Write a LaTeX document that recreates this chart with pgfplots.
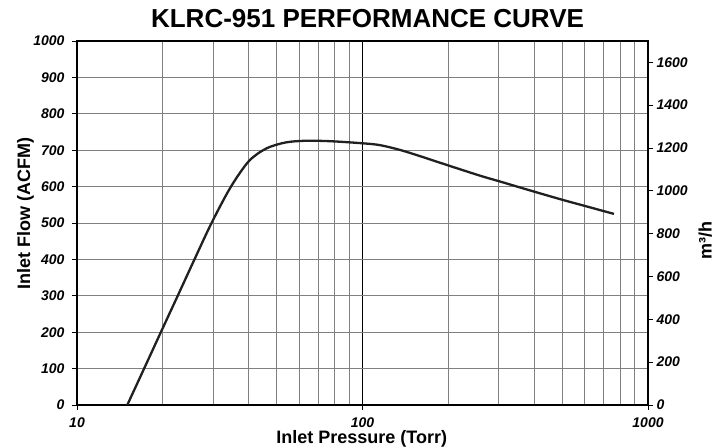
\documentclass[border=0pt]{standalone}
\usepackage{pgfplots}
\pgfplotsset{compat=1.18}
\usepackage{fontspec}
\setmainfont{Liberation Sans}
\definecolor{gridc}{RGB}{128,128,128}
\definecolor{curvec}{RGB}{35,31,32}
\pgfplotsset{
  /pgf/number format/assume math mode=true,
  /pgf/number format/1000 sep={},
  commonax/.style={
    scale only axis, width=571bp, height=364bp,
    at={(77bp,42bp)}, anchor=south west,
    tick align=outside,
    major tick length=5bp, minor tick length=0pt,
    every tick/.style={black, line width=0.8bp},
    axis line style={line width=2.2bp, black},
    tick label style={font=\fontsize{14bp}{16bp}\selectfont\bfseries\itshape},
    label style={font=\fontsize{18bp}{20bp}\selectfont\bfseries},
  }
}
\begin{document}
\begin{tikzpicture}
\path[use as bounding box] (0,0) rectangle (717bp,447bp);
\begin{axis}[
  commonax,
  xmode=log, log basis x=10,
  xmin=10, xmax=1000, ymin=0, ymax=1000,
  xtick={10,100,1000}, xticklabels={10,100,1000},
  minor xtick={20,30,40,50,60,70,80,90,200,300,400,500,600,700,800,900},
  ytick={0,100,200,300,400,500,600,700,800,900,1000},
  xtick pos=bottom, ytick pos=left,
  xticklabel style={yshift=-4bp},
  yticklabel style={xshift=-4bp},
  grid=both,
  major x grid style={black, line width=0.9bp},
  minor x grid style={gridc, line width=0.9bp},
  major y grid style={gridc, line width=0.9bp},
  title={KLRC-951 PERFORMANCE CURVE},
  title style={at={(axis description cs:0.5088,1.0212)}, anchor=base, font=\fontsize{26bp}{28bp}\selectfont\bfseries},
  xlabel={Inlet Pressure (Torr)},
  xlabel style={at={(axis description cs:0.4986,-0.105)}, anchor=base},
  ylabel={Inlet Flow (ACFM)},
  ylabel style={at={(axis description cs:-0.0823,0.525)}, anchor=base, rotate=0},
]
\addplot[curvec, line width=2.3bp, smooth] coordinates {
 (15,0) (17.18,100) (19.67,200) (22.53,300) (25.79,400) (29.6,500) (34.5,598)
 (40,670) (46.1,705) (54,721.5) (64,726) (78,724.5) (100,719)
 (115,714) (135,701) (160,683) (200,658) (258,630) (300,615) (400,586)
 (500,564) (600,547) (760,525)
};
\end{axis}
\begin{axis}[
  commonax,
  xmin=0, xmax=1, ymin=0, ymax=1699,
  axis x line=none, axis y line*=right,
  ytick={0,200,400,600,800,1000,1200,1400,1600},
  ytick pos=right,
  ylabel={m³/h},
  ylabel style={at={(axis description cs:1.1116,0.453)}, anchor=base, rotate=0},
]
\addplot[draw=none] coordinates {(0,0)};
\end{axis}
\end{tikzpicture}
\end{document}
